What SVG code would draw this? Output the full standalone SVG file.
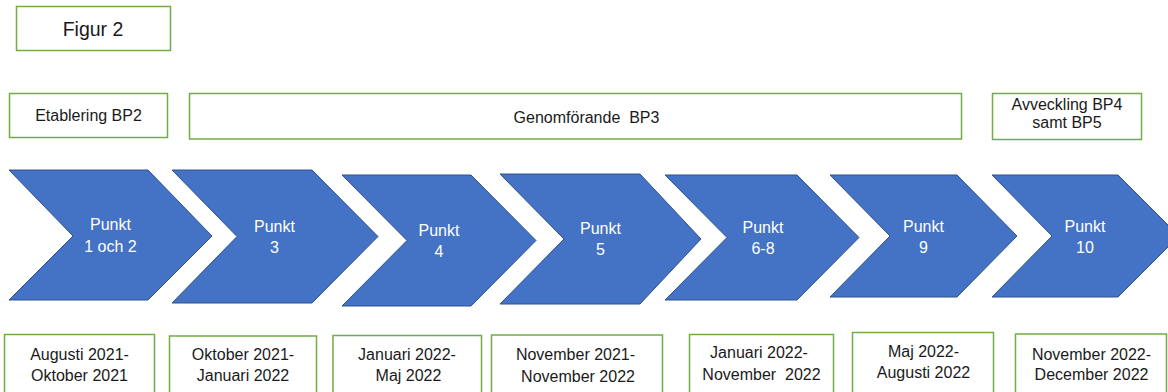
<svg xmlns="http://www.w3.org/2000/svg" width="1168" height="392" viewBox="0 0 1168 392">
<style>
.box{fill:#fff;stroke:#70AD47;stroke-width:1.5}
.chev{fill:#4472C4;stroke:#2F528F;stroke-width:1}
.t{font-family:"Liberation Sans",Arial,sans-serif;font-size:16px;fill:#1a1a1a;text-anchor:middle}
.w{font-family:"Liberation Sans",Arial,sans-serif;font-size:16px;fill:#fff;text-anchor:middle}
</style>
<rect width="1168" height="392" fill="#fff"/>
<g id="title">
<rect class="box" x="16.5" y="6.5" width="154" height="44"/>
<text class="t" x="93" y="36" style="font-size:19.5px">Figur 2</text>
</g>
<g id="phase-etablering">
<rect class="box" x="9.5" y="93.5" width="158" height="44"/>
<text class="t" x="88.5" y="121">Etablering BP2</text>
</g>
<g id="phase-genomforande">
<rect class="box" x="189.5" y="93.5" width="772" height="45.5"/>
<text class="t" x="586.5" y="122.5" xml:space="preserve">Genomförande  BP3</text>
</g>
<g id="phase-avveckling">
<rect class="box" x="992.5" y="93.5" width="149" height="46"/>
<text class="t" x="1067" y="110">Avveckling BP4</text>
<text class="t" x="1067" y="128">samt BP5</text>
</g>
<g id="connectors"></g>
<g id="step1">
<polygon class="chev" points="9,170 148,170 212,236 148,300 9,300 73,236"/>
<text class="w" x="110.5" y="230">Punkt</text>
<text class="w" x="110.5" y="251.5">1 och 2</text>
</g>
<g id="step2">
<polygon class="chev" points="172,170 312,170 378,236.5 312,303 172,303 237,236.5"/>
<text class="w" x="274.5" y="231.5">Punkt</text>
<text class="w" x="274.5" y="253">3</text>
</g>
<g id="step3">
<polygon class="chev" points="342,175 471,175 536,240.5 471,306 342,306 407,240.5"/>
<text class="w" x="439" y="236">Punkt</text>
<text class="w" x="439" y="257">4</text>
</g>
<g id="step4">
<polygon class="chev" points="500,174 640,174 701,239 640,304 500,304 564,239"/>
<text class="w" x="600.5" y="234">Punkt</text>
<text class="w" x="600.5" y="255">5</text>
</g>
<g id="step5">
<polygon class="chev" points="665,175 797,175 859,237.5 797,300 665,300 727,237.5"/>
<text class="w" x="763" y="232.5">Punkt</text>
<text class="w" x="763" y="254">6-8</text>
</g>
<g id="step6">
<polygon class="chev" points="830,175 957,175 1017,236 957,297 830,297 890,236"/>
<text class="w" x="923.5" y="231.5">Punkt</text>
<text class="w" x="923.5" y="252.5">9</text>
</g>
<g id="step7">
<polygon class="chev" points="992,175 1118,175 1179,236 1118,297 992,297 1052,236"/>
<text class="w" x="1085" y="231.5">Punkt</text>
<text class="w" x="1085" y="253">10</text>
</g>
<g id="date1">
<rect class="box" x="4.5" y="334.5" width="150" height="70"/>
<text class="t" x="79.5" y="359.5">Augusti 2021-</text>
<text class="t" x="79.5" y="380.5">Oktober 2021</text>
</g>
<g id="date2">
<rect class="box" x="169.5" y="336" width="147" height="70"/>
<text class="t" x="243" y="359.5">Oktober 2021-</text>
<text class="t" x="243" y="380.5">Januari 2022</text>
</g>
<g id="date3">
<rect class="box" x="333" y="335.5" width="148.5" height="70"/>
<text class="t" x="407" y="359.5">Januari 2022-</text>
<text class="t" x="408.5" y="380.5">Maj 2022</text>
</g>
<g id="date4">
<rect class="box" x="491.5" y="335" width="171" height="70"/>
<text class="t" x="575.5" y="360">November 2021-</text>
<text class="t" x="578" y="381.5">November 2022</text>
</g>
<g id="date5">
<rect class="box" x="689.5" y="334.5" width="144" height="70"/>
<text class="t" x="759" y="358">Januari 2022-</text>
<text class="t" x="761.5" y="380" xml:space="preserve">November  2022</text>
</g>
<g id="date6">
<rect class="box" x="852.5" y="332.5" width="141" height="70"/>
<text class="t" x="923.5" y="357">Maj 2022-</text>
<text class="t" x="923.5" y="377.5">Augusti 2022</text>
</g>
<g id="date7">
<rect class="box" x="1015.5" y="334" width="151" height="70"/>
<text class="t" x="1091.5" y="359.5">November 2022-</text>
<text class="t" x="1091.5" y="380">December 2022</text>
</g>
</svg>
